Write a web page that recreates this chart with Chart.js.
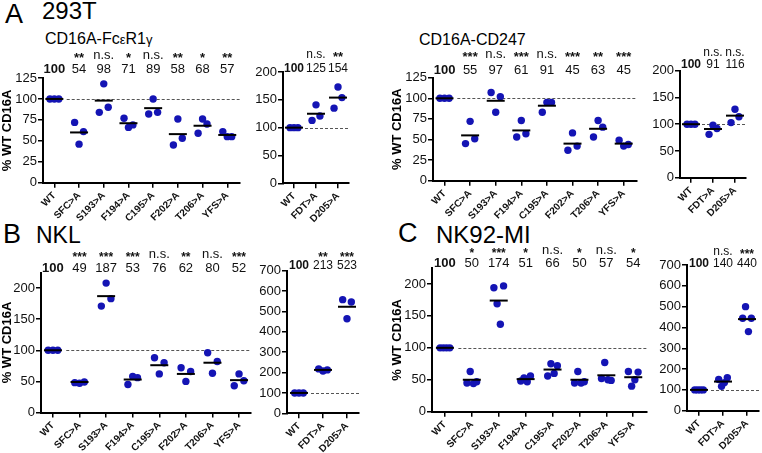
<!DOCTYPE html>
<html><head><meta charset="utf-8">
<script src="https://cdn.jsdelivr.net/npm/chart.js@4.4.1/dist/chart.umd.min.js"></script>
<style>
html,body{margin:0;padding:0;width:762px;height:453px;overflow:hidden;background:#fff;}
.t{position:absolute;font-family:'Liberation Sans',Arial,sans-serif;color:#000;white-space:nowrap;line-height:1;}
canvas{position:absolute;}
</style></head><body>
<div class="t" style="left:5px;top:1px;font-size:27px">A</div>
<div class="t" style="left:42px;top:-1px;font-size:24px">293T</div>
<div class="t" style="left:45px;top:31px;font-size:16px">CD16A-Fc<span style="font-size:13px">ε</span>R1<span style="font-size:13px">γ</span></div>
<div class="t" style="left:419px;top:32px;font-size:16px">CD16A-CD247</div>
<div class="t" style="left:3px;top:221px;font-size:27px">B</div>
<div class="t" style="left:36px;top:224px;font-size:23px">NKL</div>
<div class="t" style="left:398px;top:220px;font-size:27px">C</div>
<div class="t" style="left:436px;top:223px;font-size:24px">NK92-MI</div>
<script>
// ---------- categories & tick labels ----------
const catsMain  = ['WT','SFC>A','S193>A','F194>A','C195>A','F202>A','T206>A','YFS>A'];
const catsSmall = ['WT','FDT>A','D205>A'];
const yTicks125 = [0,25,50,75,100,125];
const yTicks200 = [0,25,50,75,100,125,150,175,200];
const yTicks700 = [0,100,200,300,400,500,600,700];

// ---------- 293T, CD16A-FcεR1γ ----------
const fcPts  = [[100,100,100],[72,46,61],[84,118,90],[77,66,69],[82,100,84],[45,76,53],[59,76,70],[61,55,55]];
const fcMean = [100,60,98,71,89,58,68,57];
const fcNums = ['100','54','98','71','89','58','68','57'];
const fcSig  = ['','**','n.s.','*','n.s.','**','*','**'];

const fcSmPts  = [[100,100,100],[113,141,121],[135,173,154]];
const fcSmMean = [100,125,154];
const fcSmNums = ['100','125','154'];
const fcSmSig  = ['','n.s.','**'];

// ---------- 293T, CD16A-CD247 ----------
const cdPts  = [[100,100,100],[45,72,51],[107,83,102],[53,73,57],[83,95,95],[37,58,42],[53,73,65],[49,42,44]];
const cdMean = [100,55,97,61,91,45,63,45];
const cdNums = ['100','55','97','61','91','45','63','45'];
const cdSig  = ['','***','n.s.','***','n.s.','***','**','***'];

const cdSmPts  = [[100,100,100],[81,98,92],[103,128,114]];
const cdSmMean = [100,91,116];
const cdSmNums = ['100','91','116'];
const cdSmSig  = ['','n.s.','n.s.'];

// ---------- NKL ----------
const nklPts  = [[100,100,100],[48,47,49],[171,208,183],[45,58,56],[88,62,80],[72,50,66],[96,63,82],[43,62,51]];
const nklMean = [100,49,187,53,76,62,80,52];
const nklNums = ['100','49','187','53','76','62','80','52'];
const nklSig  = ['','***','***','***','n.s.','**','n.s.','***'];

const nklSmPts  = [[100,100,100],[218,208,213],[558,464,546]];
const nklSmMean = [100,213,523];
const nklSmNums = ['100','213','523'];
const nklSmSig  = ['','**','***'];

// ---------- NK92-MI ----------
const nkPts  = [[100,100,100,100],[45,63,44,47],[194,169,137,197],[48,53,47,56],[56,75,60,72],[45,63,45,47],[52,77,50,49],[63,40,50,62]];
const nkMean = [100,50,174,51,66,50,57,54];
const nkNums = ['100','50','174','51','66','50','57','54'];
const nkSig  = ['','*','***','*','n.s.','*','n.s.','*'];

const nkSmPts  = [[100,100,100,100],[150,117,135,158],[444,500,380,444]];
const nkSmMean = [100,140,440];
const nkSmNums = ['100','140','440'];
const nkSmSig  = ['','n.s.','***'];

// ---------- drawing ----------
const FONT = "'Liberation Sans', Arial, sans-serif";
const PT = '#1414b4';
const JIT = 0.36;

function annot(rect, o, sig, nums) {
  return {
    id: 'annot',
    beforeDatasetsDraw(chart) {
      const ctx = chart.ctx, xs = chart.scales.x, ys = chart.scales.y;
      const y = Math.round(ys.getPixelForValue(100)) + 0.5;
      ctx.save();
      ctx.setLineDash([3, 2]);
      ctx.lineWidth = 1;
      ctx.strokeStyle = '#555';
      ctx.beginPath();
      ctx.moveTo(xs.getPixelForValue(0.5), y);
      ctx.lineTo(chart.chartArea.right, y);
      ctx.stroke();
      ctx.restore();
    },
    afterDraw(chart) {
      const ctx = chart.ctx, xs = chart.scales.x;
      ctx.save();
      ctx.textAlign = 'center';
      ctx.textBaseline = 'alphabetic';
      ctx.fillStyle = '#111';
      for (let i = 0; i < nums.length; i++) {
        const x = xs.getPixelForValue(i);
        const s = sig[i];
        if (s) {
          if (s === 'n.s.') {
            ctx.font = o.numSize + 'px ' + FONT;
            ctx.fillText(s, x, o.nsY - rect.y);
          } else {
            ctx.font = 'bold ' + o.starSize + 'px ' + FONT;
            ctx.fillText(s, x, o.starY - rect.y);
          }
        }
        ctx.font = (i === 0 ? 'bold ' : '') + o.numSize + 'px ' + FONT;
        ctx.fillText(nums[i], x, o.numY - rect.y);
      }
      ctx.restore();
    }
  };
}

function makeChart(rect, area, cats, pts, means, nums, sig, yTicks, o) {
  const cv = document.createElement('canvas');
  cv.width = rect.w; cv.height = rect.h;
  cv.style.left = rect.x + 'px'; cv.style.top = rect.y + 'px';
  cv.style.width = rect.w + 'px'; cv.style.height = rect.h + 'px';
  document.body.appendChild(cv);

  const scatter = [];
  pts.forEach((g, i) => {
    const n = g.length;
    g.forEach((v, j) => {
      const off = n > 1 ? (j - (n - 1) / 2) * (JIT / (n - 1)) : 0;
      scatter.push({x: i + off, y: v});
    });
  });
  const meanData = means.map((m, i) => ({x: i, y: m}));
  const grid = {display: true, drawOnChartArea: false, drawTicks: true, tickLength: 5, color: '#000', lineWidth: 1.5};
  const border = {display: true, color: '#000', width: 2};

  new Chart(cv, {
    type: 'scatter',
    data: {datasets: [
      {data: meanData, pointStyle: 'line', pointRadius: 9, pointHoverRadius: 9,
       pointBorderWidth: 2, pointBorderColor: '#000', borderColor: '#000', backgroundColor: '#000', clip: false},
      {data: scatter, pointStyle: 'circle', pointRadius: 3.7, pointHoverRadius: 3.7,
       pointBorderWidth: 0, backgroundColor: PT, borderColor: PT, clip: false}
    ]},
    options: {
      responsive: false, animation: false, devicePixelRatio: 1, events: [],
      layout: {autoPadding: false, padding: {left: 0, bottom: 0, top: area.t - rect.y, right: rect.x + rect.w - area.r}},
      plugins: {legend: {display: false}, tooltip: {enabled: false}},
      scales: {
        x: {
          type: 'linear', min: o.xmin, max: o.xmax, offset: false,
          afterBuildTicks: s => { s.ticks = cats.map((c, i) => ({value: i})); },
          afterFit: s => { s.height = rect.y + rect.h - area.b; s.paddingLeft = 0; s.paddingRight = 0; },
          ticks: {autoSkip: false, minRotation: 45, maxRotation: 45, padding: 2,
                  font: {family: FONT, size: 10, weight: 'bold'}, color: '#111',
                  callback: v => cats[Math.round(v)]},
          grid: grid, border: border
        },
        y: {
          type: 'linear', min: 0, max: o.ymax,
          afterBuildTicks: s => { s.ticks = yTicks.map(v => ({value: v})); },
          afterFit: s => { s.width = area.l - rect.x; s.paddingTop = 0; s.paddingBottom = 0; },
          ticks: {padding: 1, font: {family: FONT, size: 13}, color: '#111'},
          grid: grid, border: border,
          title: {display: !!o.title, text: '% WT CD16A', font: {family: FONT, size: 13, weight: 'bold'}, color: '#000', padding: 0}
        }
      }
    },
    plugins: [annot(rect, o, sig, nums)]
  });
}

// Row A
makeChart({x:0, y:40, w:252, h:195}, {l:43, t:78, r:239.6, b:182.7}, catsMain, fcPts, fcMean, fcNums, fcSig, yTicks125,
  {xmin:-0.46, xmax:7.5, ymax:125, title:true, nsY:59, starY:62, numY:73, starSize:13, numSize:13});
makeChart({x:252, y:40, w:110, h:195}, {l:283, t:72, r:349, b:183.3}, catsSmall, fcSmPts, fcSmMean, fcSmNums, fcSmSig, yTicks200,
  {xmin:-0.5, xmax:2.5, ymax:200, title:false, nsY:58, starY:61, numY:72, starSize:13, numSize:12});
makeChart({x:390, y:40, w:258, h:195}, {l:433, t:77.7, r:636.5, b:180.7}, catsMain, cdPts, cdMean, cdNums, cdSig, yTicks125,
  {xmin:-0.45, xmax:7.5, ymax:125, title:true, nsY:58, starY:61, numY:74, starSize:13, numSize:13});
makeChart({x:648, y:40, w:114, h:195}, {l:680, t:70.7, r:746, b:177.7}, catsSmall, cdSmPts, cdSmMean, cdSmNums, cdSmSig, yTicks200,
  {xmin:-0.5, xmax:2.5, ymax:200, title:false, nsY:56, starY:59, numY:68, starSize:13, numSize:12});
// Row B
makeChart({x:0, y:245, w:255, h:208}, {l:41, t:272.5, r:251, b:412.5}, catsMain, nklPts, nklMean, nklNums, nklSig, yTicks200,
  {xmin:-0.45, xmax:7.45, ymax:225, title:true, nsY:258, starY:261, numY:272, starSize:12, numSize:13});
makeChart({x:255, y:245, w:110, h:208}, {l:287, t:270.7, r:359, b:413.3}, catsSmall, nklSmPts, nklSmMean, nklSmNums, nklSmSig, yTicks700,
  {xmin:-0.5, xmax:2.5, ymax:700, title:false, nsY:258, starY:261, numY:269, starSize:12, numSize:12});
// Row C
makeChart({x:390, y:245, w:262, h:208}, {l:432, t:268, r:646.7, b:411.7}, catsMain, nkPts, nkMean, nkNums, nkSig, yTicks200,
  {xmin:-0.48, xmax:7.5, ymax:225, title:true, nsY:254, starY:257, numY:267, starSize:12, numSize:13});
makeChart({x:652, y:245, w:110, h:208}, {l:687, t:265, r:759, b:410.7}, catsSmall, nkSmPts, nkSmMean, nkSmNums, nkSmSig, yTicks700,
  {xmin:-0.5, xmax:2.5, ymax:700, title:false, nsY:255, starY:258, numY:267, starSize:12, numSize:12});
</script>
</body></html>
